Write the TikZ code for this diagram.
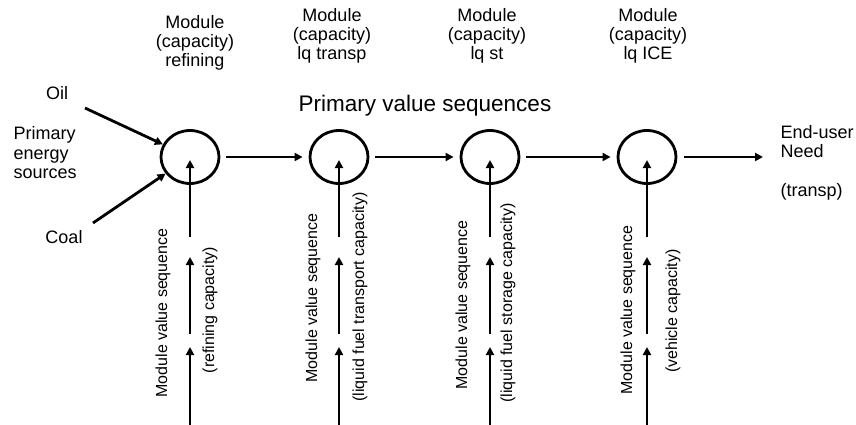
\documentclass[tikz,border=0pt]{standalone}
\usepackage{fontspec}
\setmainfont{Liberation Sans}
\usetikzlibrary{arrows.meta, shapes.geometric}
\tikzset{ mod/.style = { ellipse
                       , draw
                       , line width     = 2.8pt
                       , inner sep      = 0pt
                       , minimum width  = 58pt
                       , minimum height = 53pt
                       },
          lab/.style = { align = center
                       , font  = \fontsize{18}{19}\selectfont
                       },
          side/.style = { align = left
                        , font  = \fontsize{18}{19.5}\selectfont
                        },
          vert/.style = { rotate = 90
                        , font   = \fontsize{16}{18}\selectfont
                        },
          flow/.style = { line width = 2.8pt
                        , -{Triangle[length=8pt, width=8pt]}
                        }
        }
\begin{document}
\begin{tikzpicture}[x=1pt, y=-1pt]
  \useasboundingbox (0,0) rectangle (856,425);
  \foreach \n/\x/\lx/\ly/\t/\mx/\my/\cx/\cy/\c in
      {1/190/195/43/refining/163/313/210/310/{(refining capacity)},
       2/339/332/36/lq transp/313/298/360/297/{(liquid fuel transport capacity)},
       3/490/487/36/lq st/463/305/508/303/{(liquid fuel storage capacity)},
       4/647/648/36/lq ICE/628/310/673/311/{(vehicle capacity)}} {
    \node[mod] (m\n) at (\x,157) {};
    \node[lab] (lab\n) at (\lx,\ly) {Module\\(capacity)\\\t};
    \node[vert] (mvs\n) at (\mx,\my) {Module value sequence};
    \node[vert] (cap\n) at (\cx,\cy) {\c};
    \coordinate (v\n a) at (\x,425);
    \coordinate (v\n b) at (\x,347);
    \coordinate (v\n c) at (\x,334);
    \coordinate (v\n d) at (\x,257);
    \coordinate (v\n e) at (\x,237);
    \coordinate (v\n f) at (\x,160);
    \draw[flow] (v\n a) -- (v\n b);
    \draw[flow] (v\n c) -- (v\n d);
    \draw[flow] (v\n e) -- (v\n f);
  }
  \node[font=\fontsize{22.5}{24}\selectfont] (title) at (425,106) {Primary value sequences};
  \node[side] (oil) at (57,93) {Oil};
  \node[side] (coal) at (64,237) {Coal};
  \node[side, anchor=west] (src) at (10,153) {Primary\\energy\\sources};
  \node[side, anchor=west] (need) at (777,163) {End-user\\Need\\[19.5pt](transp)};
  \coordinate (oilend) at (85,108);
  \coordinate (coalend) at (93,223);
  \coordinate (needend) at (763,157);
  \draw[flow] (oilend) -- (m1);
  \draw[flow] (coalend) -- (m1);
  \draw[flow, shorten <=6pt, shorten >=6pt] (m1) -- (m2);
  \draw[flow, shorten <=6pt, shorten >=6pt] (m2) -- (m3);
  \draw[flow, shorten <=6pt, shorten >=6pt] (m3) -- (m4);
  \draw[flow, shorten <=7pt] (m4) -- (needend);
\end{tikzpicture}
\end{document}
